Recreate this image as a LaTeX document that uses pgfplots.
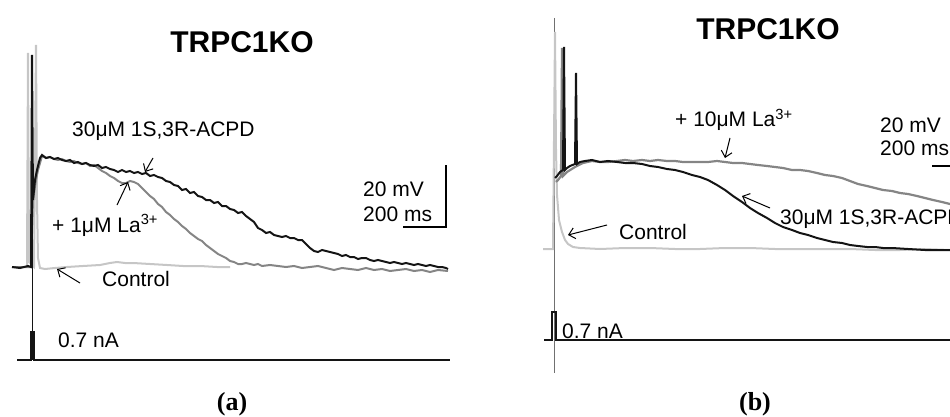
\documentclass[border=0pt]{standalone}
\usepackage{fontspec}
\setmainfont{Liberation Sans}
\newfontfamily\capfont{Liberation Serif}
\usepackage{pgfplots}
\pgfplotsset{compat=1.18}
\usetikzlibrary{arrows.meta}
\definecolor{tblack}{HTML}{141414}
\definecolor{tgray}{HTML}{858585}
\definecolor{tlight}{HTML}{C6C6C6}
\definecolor{tstim}{HTML}{707070}
\begin{document}
\begin{tikzpicture}
\begin{axis}[at={(0,0)}, anchor=south west, scale only axis, width=950pt, height=417pt,
  xmin=0, xmax=950, ymin=0, ymax=417, y dir=reverse, axis lines=none, ticks=none, clip=false]
% ---------- panel (a) ----------
\addplot[tlight, line width=2pt] coordinates {(27,267)(28,53)(29,262)(34,267)(36,45)(37,200)(38,258)(40,268)(45,269)(55,268)(67,267)(83,266)(100,265)(110,263)(117,262)(125,263)(133,263)(150,264)(167,265)(183,266)(200,266)(217,267)(230,267)};
\addplot[tgray, line width=2pt] coordinates {(12,267)(31,267)(33,200)(36,180)(38,170)(42,156)(46,158)(50,157)(54,159)(58,160)(62,159)(66,161)(70,162)(74,161)(78,163)(82,164)(86,163)(90,166)(94,165)(98,168)(102,171)(106,173)(110,176)(114,178)(118,181)(122,183)(126,183)(130,181)(134,182)(138,184)(142,188)(146,192)(150,196)(154,199)(158,204)(162,207)(166,212)(170,215)(174,219)(178,222)(182,226)(186,229)(190,233)(194,236)(198,239)(202,241)(206,245)(210,248)(214,251)(218,254)(222,256)(226,258)(230,261)(234,262)(238,264)(242,264)(246,263)(250,264)(254,265)(258,264)(262,266)(270,265)(278,266)(286,267)(294,266)(302,268)(310,267)(318,266)(326,268)(334,270)(342,268)(350,269)(358,270)(366,268)(374,270)(382,269)(390,271)(398,270)(406,269)(414,271)(422,270)(430,272)(438,270)(448,271)};
\addplot[tblack, line width=2pt] coordinates {(12,267)(20,268)(28,266)(31,267)(32,55)(33,200)(35,180)(37,170)(40,158)(42,155)(46,158)(50,157)(54,159)(58,158)(62,160)(66,161)(70,160)(74,163)(78,162)(82,164)(86,163)(90,165)(94,166)(98,165)(102,168)(106,167)(110,169)(114,170)(118,172)(122,170)(126,172)(130,171)(134,173)(138,172)(142,174)(146,173)(150,176)(154,175)(158,177)(162,178)(166,181)(170,182)(174,185)(178,186)(182,190)(186,189)(190,193)(194,192)(198,196)(202,197)(206,200)(210,200)(214,203)(218,202)(222,206)(226,206)(230,209)(234,210)(238,213)(242,212)(246,216)(250,219)(254,222)(258,228)(262,230)(266,233)(270,232)(274,235)(278,236)(282,237)(286,236)(290,238)(294,238)(298,240)(302,240)(306,244)(310,248)(314,251)(318,252)(322,250)(326,251)(330,252)(334,253)(338,254)(342,256)(346,255)(350,257)(354,257)(358,259)(362,258)(366,258)(370,260)(374,261)(378,260)(382,261)(386,262)(390,263)(394,262)(398,263)(402,264)(406,263)(410,264)(414,265)(418,264)(422,265)(426,266)(430,265)(434,266)(438,267)(442,267)(446,268)(448,269)};
\addplot[tblack, line width=1pt] coordinates {(32,55)(32,360)};
\addplot[tblack, line width=1.5pt] coordinates {(17,360)(31,360)(31,332)(34,332)(34,360)(450,360)};
\addplot[black, line width=1.2pt] coordinates {(446,165)(446,227)(403,227)};
\node[anchor=base, font=\fontsize{30}{34}\selectfont\bfseries] at (axis cs:242,53) {TRPC1KO};
\node[anchor=base west, inner sep=0pt, font=\fontsize{21}{24}\selectfont] at (axis cs:72,137) {30μM 1S,3R-ACPD};
\node[anchor=base west, inner sep=0pt, font=\fontsize{21}{24}\selectfont] at (axis cs:52,232) {+ 1μM La\textsuperscript{3+}};
\node[anchor=base west, inner sep=0pt, font=\fontsize{21}{24}\selectfont] at (axis cs:102,286) {Control};
\node[anchor=base west, inner sep=0pt, font=\fontsize{21}{24}\selectfont] at (axis cs:363,196) {20 mV};
\node[anchor=base west, inner sep=0pt, font=\fontsize{21}{24}\selectfont] at (axis cs:363,221) {200 ms};
\node[anchor=base west, inner sep=0pt, font=\fontsize{21}{24}\selectfont] at (axis cs:58,347) {0.7 nA};
\node[anchor=base, inner sep=0pt, font=\fontsize{26}{30}\selectfont\capfont\bfseries] at (axis cs:232,410) {(a)};
\draw[line width=1pt, -{Straight Barb[length=6pt,width=11pt]}] (axis cs:153,158) -- (axis cs:145,172);
\draw[line width=1pt, -{Straight Barb[length=6pt,width=11pt]}] (axis cs:117,205) -- (axis cs:128,182);
\draw[line width=1pt, -{Straight Barb[length=6pt,width=11pt]}] (axis cs:80,283) -- (axis cs:57,269);
% ---------- panel (b) ----------
\addplot[tstim, line width=1pt] coordinates {(554,18)(554,373)};
\addplot[tlight, line width=2pt] coordinates {(543,249)(553,249)(555,32)(556,150)(557,195)(559,220)(562,232)(565,240)(568,244)(573,247)(580,248)(600,249)(625,248)(650,248)(675,249)(700,249)(725,248)(750,248)(775,249)(800,249)(825,249)(850,249)(875,250)(900,250)(925,249)(950,250)};
\addplot[tgray, line width=2.2pt] coordinates {(556,182)(558,180)(561,176)(562,48)(563,176)(567,172)(575,167)(583,163)(592,161)(600,162)(608,162)(617,161)(625,160)(633,161)(642,160)(650,161)(658,160)(667,161)(675,161)(683,162)(692,162)(700,162)(708,162)(717,161)(725,162)(733,163)(742,163)(750,164)(758,165)(767,166)(775,167)(783,168)(792,170)(800,170)(808,171)(817,173)(825,175)(833,176)(842,178)(850,181)(858,184)(867,186)(875,188)(883,190)(892,191)(900,193)(908,194)(917,196)(925,198)(933,200)(942,202)(950,204)};
\addplot[tblack, line width=2pt] coordinates {(555,178)(557,176)(560,172)(563,170)(564,47)(565,170)(567,168)(570,166)(575,164)(576,73)(577,164)(580,162)(585,161)(592,160)(600,162)(608,161)(617,162)(625,163)(633,163)(642,164)(650,166)(658,167)(667,169)(675,170)(683,172)(692,175)(700,177)(708,180)(717,185)(725,190)(733,196)(742,202)(750,208)(758,213)(767,218)(775,223)(783,227)(792,230)(800,233)(808,235)(817,238)(825,240)(833,242)(842,243)(850,245)(858,246)(867,247)(875,247)(883,248)(892,248)(908,249)(925,250)(950,250)};
\addplot[tblack, line width=1.5pt] coordinates {(544,340)(552,340)(552,312)(556,312)(556,340)(950,340)};
\addplot[black, line width=1.2pt] coordinates {(932,166)(955,166)};
\node[anchor=base, font=\fontsize{30}{34}\selectfont\bfseries] at (axis cs:768,40) {TRPC1KO};
\node[anchor=base west, inner sep=0pt, font=\fontsize{21}{24}\selectfont] at (axis cs:675,127) {+ 10μM La\textsuperscript{3+}};
\node[anchor=base west, inner sep=0pt, font=\fontsize{21}{24}\selectfont] at (axis cs:780,224) {30μM 1S,3R-ACPD};
\node[anchor=base west, inner sep=0pt, font=\fontsize{21}{24}\selectfont] at (axis cs:619,239) {Control};
\node[anchor=base west, inner sep=0pt, font=\fontsize{21}{24}\selectfont] at (axis cs:880,132) {20 mV};
\node[anchor=base west, inner sep=0pt, font=\fontsize{21}{24}\selectfont] at (axis cs:880,156) {200 ms};
\node[anchor=base west, inner sep=0pt, font=\fontsize{21}{24}\selectfont] at (axis cs:562,338) {0.7 nA};
\node[anchor=base, inner sep=0pt, font=\fontsize{26}{30}\selectfont\capfont\bfseries] at (axis cs:755,410) {(b)};
\draw[line width=1pt, -{Straight Barb[length=6pt,width=11pt]}] (axis cs:730,138) -- (axis cs:725,158);
\draw[line width=1pt, -{Straight Barb[length=6pt,width=11pt]}] (axis cs:770,208) -- (axis cs:742,196);
\draw[line width=1pt, -{Straight Barb[length=6pt,width=11pt]}] (axis cs:607,225) -- (axis cs:568,235);
\end{axis}
\pgfresetboundingbox
\path[use as bounding box] (0,0) rectangle (950pt,417pt);
\end{tikzpicture}
\end{document}
